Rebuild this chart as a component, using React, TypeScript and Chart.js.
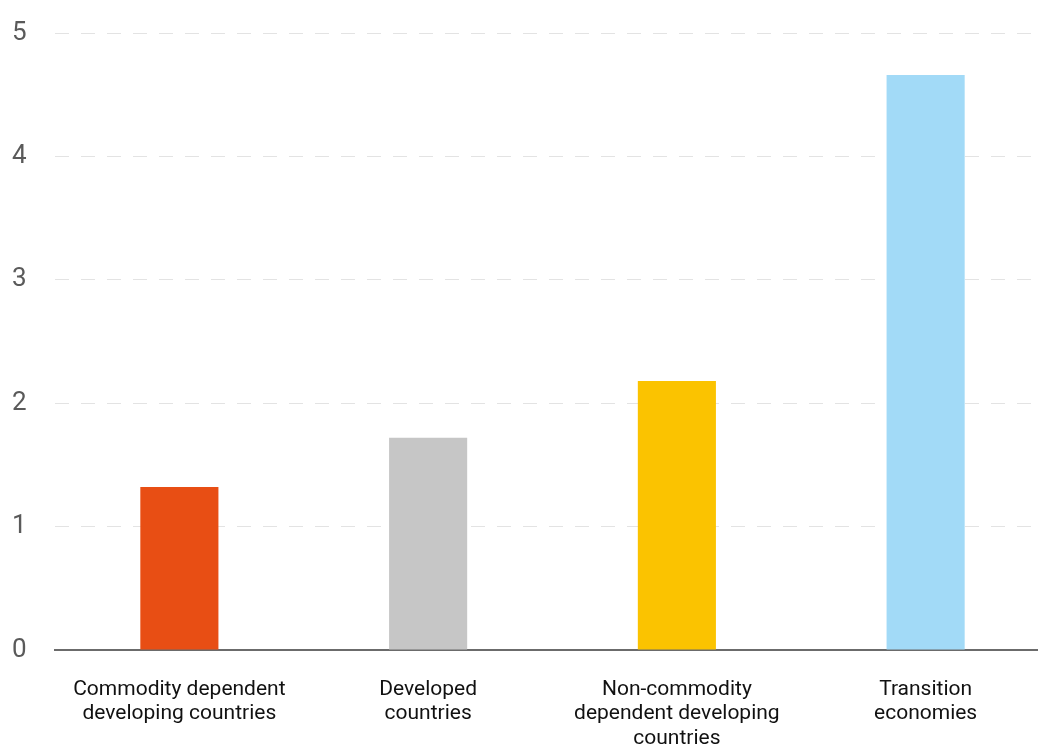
import React, { useEffect, useRef } from "react";
import { Chart, registerables } from "chart.js";

Chart.register(...registerables);

const categories: string[][] = [
  ["Commodity dependent", "developing countries"],
  ["Developed", "countries"],
  ["Non-commodity", "dependent developing", "countries"],
  ["Transition", "economies"],
];
const values: number[] = [1.32, 1.72, 2.18, 4.66];
const barColors: string[] = ["#E84E14", "#C6C6C6", "#FBC300", "#A2DAF7"];
const yTicks: number[] = [0, 1, 2, 3, 4, 5];

const FONT = "'Liberation Sans Narrow', 'Roboto', sans-serif";

export default function App() {
  const ref = useRef<HTMLCanvasElement | null>(null);

  useEffect(() => {
    document.body.style.margin = "0";
    document.body.style.overflow = "hidden";
    if (!ref.current) return;
    const chart = new Chart(ref.current, {
      type: "bar",
      data: {
        labels: categories,
        datasets: [
          {
            data: values,
            backgroundColor: barColors,
            borderWidth: 0,
            barPercentage: 0.314,
            categoryPercentage: 1,
          },
        ],
      },
      options: {
        animation: false,
        responsive: false,
        layout: { padding: { left: 12, top: 33, right: 0, bottom: 0 } },
        plugins: { legend: { display: false }, tooltip: { enabled: false } },
        scales: {
          x: {
            grid: { display: false, drawTicks: false },
            border: { display: true, color: "#6b6b6b", width: 2 },
            ticks: {
              color: "#111111",
              font: { family: FONT, size: 21, lineHeight: 1.15 },
              padding: 28,
              maxRotation: 0,
              autoSkip: false,
            },
            afterFit: (s: any) => {
              s.height = 95;
            },
          },
          y: {
            min: 0,
            max: 5,
            afterBuildTicks: (s: any) => {
              s.ticks = yTicks.map((v) => ({ value: v }));
            },
            grid: {
              drawTicks: false,
              color: (c: any) => (c.tick && c.tick.value === 0 ? "rgba(0,0,0,0)" : "#e3e3e3"),
              lineWidth: 1,
            },
            border: { display: false, dash: [14, 12] },
            ticks: {
              color: "#5a5a5a",
              font: { family: FONT, size: 26 },
              crossAlign: "far",
              padding: 0,
            },
            afterFit: (s: any) => {
              s.width = 43;
            },
          },
        },
      },
    });
    return () => chart.destroy();
  }, []);

  return (
    <div style={{ position: "relative", width: 1050, height: 745 }}>
      <canvas ref={ref} width={1050} height={745} style={{ width: 1050, height: 745 }} />
    </div>
  );
}
